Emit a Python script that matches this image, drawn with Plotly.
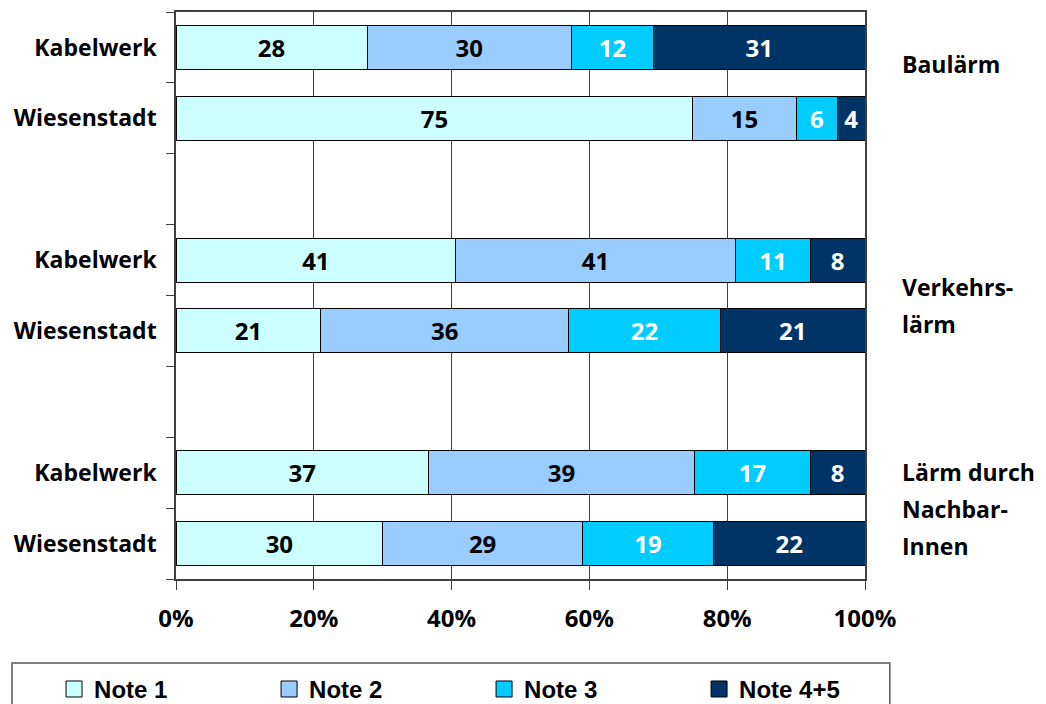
import plotly.graph_objects as go

# Daten
kategorien = ["Kabelwerk", "Wiesenstadt", "", "Kabelwerk", "Wiesenstadt", "", "Kabelwerk", "Wiesenstadt"]
note_1 = [28, 75, None, 41, 21, None, 37, 30]
note_2 = [30, 15, None, 41, 36, None, 39, 29]
note_3 = [12, 6, None, 11, 22, None, 17, 19]
note_45 = [31, 4, None, 8, 21, None, 8, 22]
serien = ["Note 1", "Note 2", "Note 3", "Note 4+5"]
gruppen = [["Baulärm"], ["Verkehrs-", "lärm"], ["Lärm durch", "Nachbar-", "Innen"]]
gruppen_pos = [0.23, 3.64, 6.51]
x_ticks = [0, 20, 40, 60, 80, 100]

farben = ["#CCFFFF", "#99CCFF", "#00CCFF", "#003366"]
textfarben = ["black", "black", "white", "white"]
FONT = "Open Sans"

pos = list(range(len(kategorien)))

fig = go.Figure()
for name, werte, farbe, tf in zip(serien, [note_1, note_2, note_3, note_45], farben, textfarben):
    fig.add_trace(go.Bar(
        y=pos, x=werte, name=name, orientation="h", width=0.62,
        marker=dict(color=farbe, line=dict(color="black", width=1)),
        text=[str(v) if v is not None else "" for v in werte],
        textposition="inside", insidetextanchor="middle", textangle=0,
        textfont=dict(family=FONT, size=24, color=tf, weight="bold"),
        cliponaxis=False, showlegend=False,
    ))
    # Legendeneintrag mit größerem Quadrat
    fig.add_trace(go.Scatter(
        x=[None], y=[None], mode="markers", name=name,
        marker=dict(symbol="square", size=16, color=farbe, line=dict(color="black", width=1)),
    ))

# Gruppenbeschriftung rechts, zeilenweise
for zeilen, yp in zip(gruppen, gruppen_pos):
    n = len(zeilen)
    for i, txt in enumerate(zeilen):
        fig.add_annotation(
            x=1.051, xref="paper", y=yp, yref="y", text=txt, showarrow=False,
            xanchor="left", yanchor="middle", align="left",
            yshift=-(i - (n - 1) / 2) * 37,
            font=dict(family=FONT, size=23, color="black", weight="bold"),
        )

# Rahmen der Legende
fig.add_shape(type="rect", xref="paper", yref="paper",
              x0=-0.238, x1=1.036, y0=-0.148, y1=-0.26,
              line=dict(color="#555555", width=1.5), fillcolor="rgba(0,0,0,0)")

fig.update_layout(
    barmode="stack", barnorm="percent",
    width=1046, height=704,
    margin=dict(l=168, r=189, t=4, b=133, autoexpand=False),
    paper_bgcolor="white", plot_bgcolor="white",
    legend=dict(
        orientation="h",
        x=-0.177, xanchor="left", y=-0.155, yanchor="top",
        entrywidth=170, entrywidthmode="pixels", traceorder="normal",
        font=dict(family="Liberation Sans", size=24, color="black", weight="bold"),
        bgcolor="rgba(0,0,0,0)",
    ),
    xaxis=dict(
        range=[0, 100], tickvals=x_ticks, ticktext=[f"{t}%" for t in x_ticks],
        showgrid=True, gridcolor="#404040", gridwidth=1,
        showline=True, linecolor="#404040", linewidth=1.5, mirror=True,
        ticks="outside", ticklen=9, tickcolor="#404040", ticklabelstandoff=8,
        tickfont=dict(family=FONT, size=24, color="black", weight="bold"),
        zeroline=False, automargin=False,
    ),
    yaxis=dict(
        range=[7.5, -0.5], tickvals=pos, ticktext=kategorien,
        ticks="", showgrid=False, zeroline=False,
        showline=True, linecolor="#404040", linewidth=1.5, mirror=True,
        ticklabelstandoff=13, automargin=False,
        tickfont=dict(family=FONT, size=23, color="black", weight="bold"),
        minor=dict(tickvals=[p - 0.5 for p in pos] + [7.5], ticks="outside",
                   ticklen=8, tickcolor="#404040", showgrid=False),
    ),
)

fig.write_html("out.html")
